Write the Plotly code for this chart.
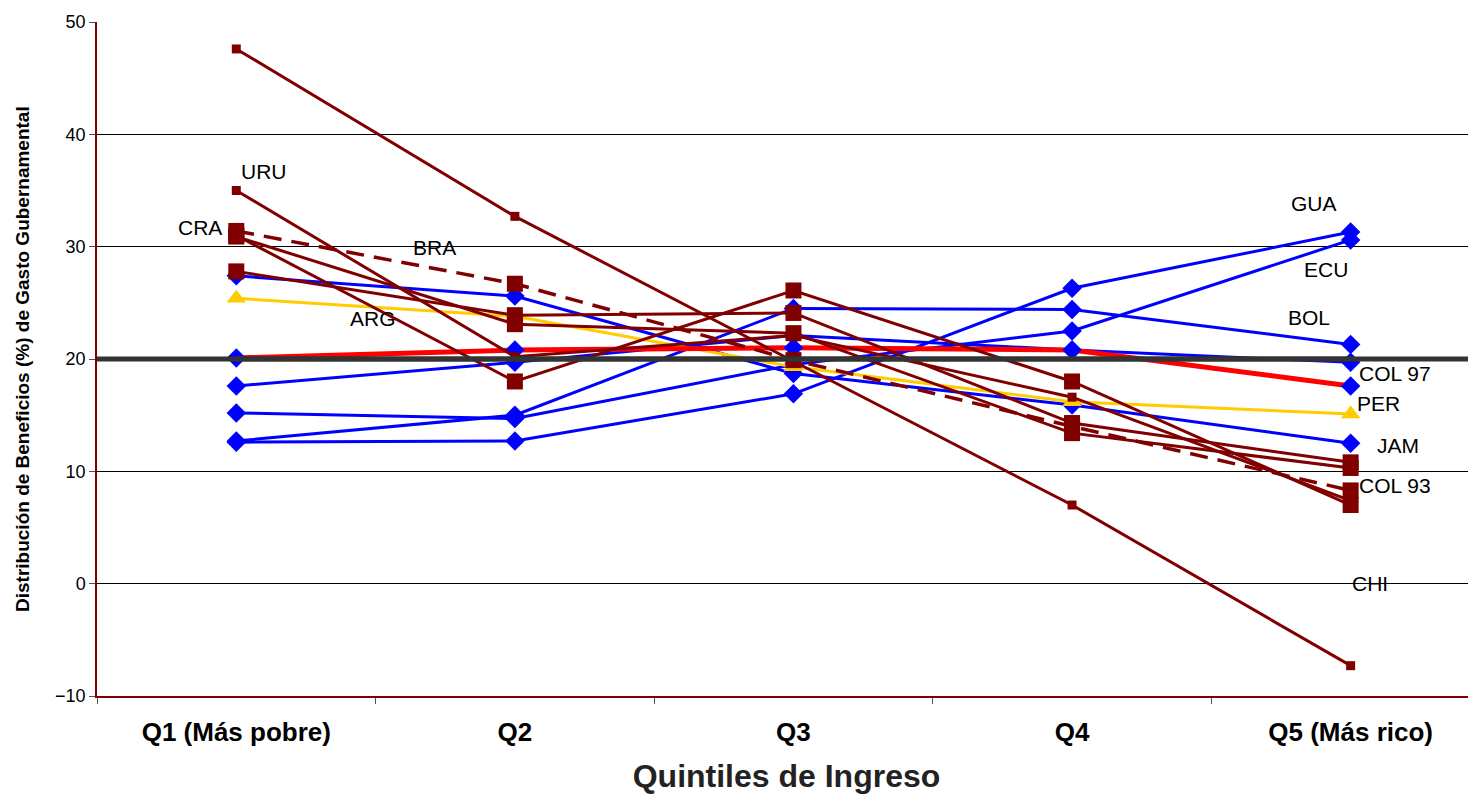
import plotly.graph_objects as go

categories = ["Q1 (Más pobre)", "Q2", "Q3", "Q4", "Q5 (Más rico)"]

# dark red series
chi = [47.6, 32.7, 19.8, 7.0, -7.3]
uru = [35.0, 20.2, 22.1, 16.6, 7.4]
bra = [31.4, 26.7, 19.9, 14.0, 8.3]
cra = [30.9, 23.1, 22.3, 13.4, 10.3]
col93 = [27.8, 23.9, 24.1, 14.3, 10.8]
arg = [31.0, 18.0, 26.1, 18.0, 7.0]

# blue series
bol = [12.7, 15.0, 24.5, 24.4, 21.3]
gua = [12.6, 12.7, 16.9, 26.3, 31.3]
ecu = [15.2, 14.7, 19.5, 22.5, 30.6]
jam = [27.4, 25.6, 18.7, 15.9, 12.5]
col97 = [17.6, 19.7, 22.1, 20.8, 19.7]

# red and yellow series
prom = [20.1, 20.8, 21.0, 20.8, 17.6]
per = [25.4, 23.8, 19.3, 16.2, 15.1]

equal_line = [20, 20, 20, 20, 20]

label_text = ["URU", "CRA", "BRA", "ARG", "GUA", "ECU", "BOL", "COL 97", "PER", "JAM", "COL 93", "CHI"]
label_x = [0.10, -0.13, 0.71, 0.49, 3.87, 3.91, 3.85, 4.16, 4.10, 4.17, 4.16, 4.07]
label_y = [36.7, 31.7, 29.9, 23.6, 33.8, 28.0, 23.7, 18.7, 16.0, 12.3, 8.7, 0.0]

DR = "#800000"
BLUE = "#0000FF"

fig = go.Figure()

def add(y, color, width, symbol, size, dash="solid", mcolor=None):
    fig.add_trace(go.Scatter(
        x=categories, y=y, mode="lines+markers",
        line=dict(color=color, width=width, dash=dash),
        marker=dict(symbol=symbol, size=size, color=mcolor or color, line=dict(width=0)),
        showlegend=False, hoverinfo="skip"))

for s in [bol, gua, ecu, jam, col97]:
    add(s, BLUE, 3, "diamond", 15)
add(per, "#FFCC00", 3, "triangle-up", 17)
add(prom, "#FF0000", 5, "diamond", 15, mcolor=BLUE)
add(chi, DR, 3, "square", 9)
add(uru, DR, 3, "square", 9)
add(bra, DR, 3.5, "square", 16, dash="18px,10px")
add(cra, DR, 3, "square", 16)
add(col93, DR, 3, "square", 16)
add(arg, DR, 3, "square", 16)

fig.add_trace(go.Scatter(x=categories, y=equal_line, mode="lines",
                         line=dict(color="#333333", width=5),
                         showlegend=False, hoverinfo="skip"))
fig.add_shape(type="line", xref="paper", yref="y", x0=0, x1=1, y0=20, y1=20,
              line=dict(color="#333333", width=5), layer="above")

for t, x, y in zip(label_text, label_x, label_y):
    fig.add_annotation(x=x, y=y, text=t, showarrow=False,
                       font=dict(family="Liberation Sans, Arial", size=21, color="black"))

# y-axis title
fig.add_annotation(xref="paper", yref="paper", x=-0.0544, y=0.5, xanchor="center", yanchor="middle",
                   text="<b>Distribución de Beneficios (%) de Gasto Gubernamental</b>",
                   textangle=-90, showarrow=False,
                   font=dict(family="Liberation Sans, Arial", size=19, color="black"))

fig.update_layout(
    width=1468, height=786,
    margin=dict(l=89, r=0, t=14, b=98, autoexpand=False),
    plot_bgcolor="white", paper_bgcolor="white",
    font=dict(family="Liberation Sans, Arial", color="black"),
)
fig.update_xaxes(
    type="category", range=[-0.5, 4.45], automargin=False,
    tickson="boundaries", ticks="outside", ticklen=6, tickcolor="#555555",
    ticklabelstandoff=12,
    showline=True, linecolor=DR, linewidth=1.5,
    showgrid=False,
    tickfont=dict(size=26, family="Liberation Sans, Arial", color="black", weight="bold"),
    title=dict(text="<b>Quintiles de Ingreso</b>", font=dict(size=32, color="#222222"), standoff=20),
)
fig.update_yaxes(
    range=[-10, 50], dtick=10, tick0=0, automargin=False,
    ticks="outside", ticklen=6, tickcolor="#555555",
    showline=True, linecolor=DR, linewidth=1.5, mirror=True,
    showgrid=True, gridcolor="black", gridwidth=1, zeroline=False,
    tickfont=dict(size=18),
)

fig.write_html("out.html")
